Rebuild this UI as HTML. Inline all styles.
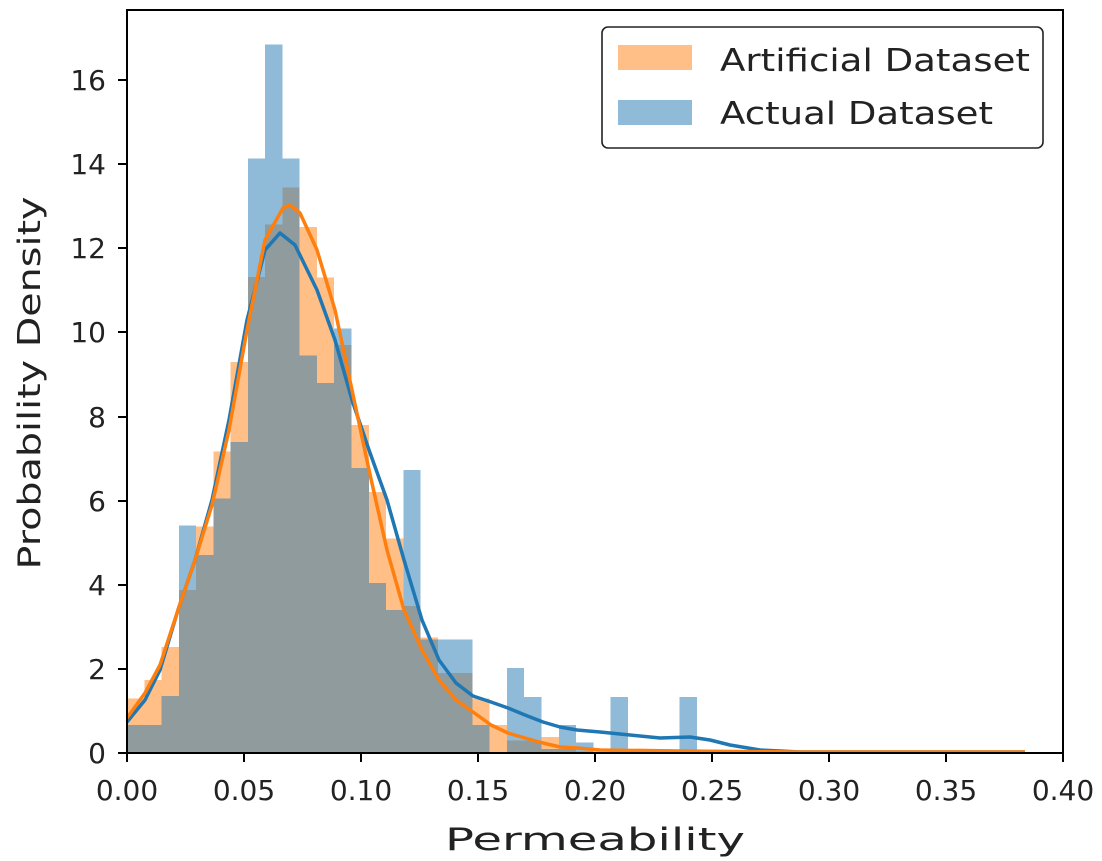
<!DOCTYPE html>
<html><head><meta charset="utf-8"><style>
html,body{margin:0;padding:0;background:#fff;}
svg{display:block;font-family:"DejaVu Sans","Liberation Sans",sans-serif;}
</style></head><body>
<svg width="1102" height="861" viewBox="0 0 1102 861" xmlns="http://www.w3.org/2000/svg" shape-rendering="crispEdges">
<rect width="1102" height="861" fill="#fff"/>
<g fill="#ff7f0e" fill-opacity="0.5">
<rect x="127.0" y="698.7" width="17.3" height="54.3"/>
<rect x="144.3" y="679.8" width="17.2" height="73.2"/>
<rect x="161.5" y="647.0" width="17.3" height="106.0"/>
<rect x="178.8" y="590.2" width="17.3" height="162.8"/>
<rect x="196.1" y="526.7" width="17.3" height="226.3"/>
<rect x="213.4" y="451.4" width="17.2" height="301.6"/>
<rect x="230.6" y="361.8" width="17.3" height="391.2"/>
<rect x="247.9" y="276.9" width="17.3" height="476.1"/>
<rect x="265.2" y="224.7" width="17.2" height="528.3"/>
<rect x="282.4" y="187.3" width="17.3" height="565.7"/>
<rect x="299.7" y="227.2" width="17.3" height="525.8"/>
<rect x="317.0" y="277.7" width="17.2" height="475.3"/>
<rect x="334.2" y="345.0" width="17.3" height="408.0"/>
<rect x="351.5" y="424.9" width="17.3" height="328.1"/>
<rect x="368.8" y="492.2" width="17.3" height="260.8"/>
<rect x="386.1" y="538.5" width="17.2" height="214.5"/>
<rect x="403.3" y="605.8" width="17.3" height="147.2"/>
<rect x="420.6" y="637.3" width="17.3" height="115.7"/>
<rect x="437.9" y="673.1" width="17.2" height="79.9"/>
<rect x="455.1" y="673.1" width="17.3" height="79.9"/>
<rect x="472.4" y="698.3" width="17.3" height="54.7"/>
<rect x="489.7" y="725.2" width="17.3" height="27.8"/>
<rect x="507.0" y="740.4" width="17.2" height="12.6"/>
<rect x="524.2" y="740.4" width="17.3" height="12.6"/>
<rect x="541.5" y="737.0" width="17.3" height="16.0"/>
<rect x="558.8" y="748.8" width="17.2" height="4.2"/>
<rect x="576.0" y="751.5" width="449" height="1.5"/>
</g>
<g fill="#1f77b4" fill-opacity="0.5">
<rect x="127.0" y="724.8" width="34.5" height="28.2"/>
<rect x="161.5" y="696.2" width="17.3" height="56.8"/>
<rect x="178.8" y="525.5" width="17.3" height="227.5"/>
<rect x="196.1" y="554.9" width="17.3" height="198.1"/>
<rect x="213.4" y="498.5" width="17.2" height="254.5"/>
<rect x="230.6" y="441.8" width="17.3" height="311.2"/>
<rect x="247.9" y="158.7" width="17.3" height="594.3"/>
<rect x="265.2" y="44.3" width="17.2" height="708.7"/>
<rect x="282.4" y="158.7" width="17.3" height="594.3"/>
<rect x="299.7" y="355.5" width="17.3" height="397.5"/>
<rect x="317.0" y="382.9" width="17.2" height="370.1"/>
<rect x="334.2" y="328.6" width="17.3" height="424.4"/>
<rect x="351.5" y="467.8" width="17.3" height="285.2"/>
<rect x="368.8" y="583.1" width="17.3" height="169.9"/>
<rect x="386.1" y="610.0" width="17.2" height="143.0"/>
<rect x="403.3" y="469.9" width="17.3" height="283.1"/>
<rect x="420.6" y="639.4" width="51.8" height="113.6"/>
<rect x="472.4" y="725.2" width="17.3" height="27.8"/>
<rect x="507.0" y="668.0" width="17.2" height="85.0"/>
<rect x="524.2" y="697.1" width="17.3" height="55.9"/>
<rect x="541.5" y="748.8" width="17.3" height="4.2"/>
<rect x="558.8" y="725.2" width="17.2" height="27.8"/>
<rect x="576.0" y="742.5" width="17.3" height="10.5"/>
<rect x="610.6" y="697.1" width="17.2" height="55.9"/>
<rect x="679.6" y="697.1" width="17.3" height="55.9"/>
</g>
<g shape-rendering="geometricPrecision">
<polyline fill="none" stroke="#1f77b4" stroke-width="3.5" stroke-linejoin="round" points="127,722 145,700 160,670 178,610 195,560 212,500 229,420 247,320 265,250 280,233 295,245 317,290 335,340 352,400 369,450 387,500 404,560 422,620 439,660 456,683 473,696 491,702 508,708 525,715 543,722 560,727 577,730 600,732 630,735 660,738 690,737 710,740 730,745 760,750 800,752 1025,752"/>
<polyline fill="none" stroke="#ff7f0e" stroke-width="3.5" stroke-linejoin="round" points="127,718 145,693 160,665 178,610 195,560 212,505 229,430 247,330 265,240 283,208 290,205 300,213 317,250 335,310 352,390 369,470 387,550 404,610 422,650 439,680 456,700 473,712 491,725 508,733 525,738 543,743 560,747 577,748 600,750 680,751 800,752 1025,752"/>
</g>
<rect x="127" y="10" width="936" height="743" fill="none" stroke="#000" stroke-width="1.6"/>
<g stroke="#000" stroke-width="1.6">
<line x1="127" y1="753" x2="127" y2="762"/><line x1="244" y1="753" x2="244" y2="762"/><line x1="361" y1="753" x2="361" y2="762"/><line x1="478" y1="753" x2="478" y2="762"/><line x1="595" y1="753" x2="595" y2="762"/><line x1="712" y1="753" x2="712" y2="762"/><line x1="829" y1="753" x2="829" y2="762"/><line x1="946" y1="753" x2="946" y2="762"/><line x1="1063" y1="753" x2="1063" y2="762"/>
<line x1="118" y1="753" x2="127" y2="753"/><line x1="118" y1="669" x2="127" y2="669"/><line x1="118" y1="585" x2="127" y2="585"/><line x1="118" y1="501" x2="127" y2="501"/><line x1="118" y1="417" x2="127" y2="417"/><line x1="118" y1="332" x2="127" y2="332"/><line x1="118" y1="248" x2="127" y2="248"/><line x1="118" y1="164" x2="127" y2="164"/><line x1="118" y1="80" x2="127" y2="80"/>
</g>
<g font-size="28" fill="#222" text-anchor="middle">
<text x="127" y="800">0.00</text><text x="244" y="800">0.05</text><text x="361" y="800">0.10</text><text x="478" y="800">0.15</text><text x="595" y="800">0.20</text><text x="712" y="800">0.25</text><text x="829" y="800">0.30</text><text x="946" y="800">0.35</text><text x="1063" y="800">0.40</text>
</g>
<g font-size="28" fill="#222" text-anchor="end">
<text x="106" y="763">0</text><text x="106" y="679">2</text><text x="106" y="595">4</text><text x="106" y="511">6</text><text x="106" y="427">8</text><text x="106" y="342">10</text><text x="106" y="258">12</text><text x="106" y="174">14</text><text x="106" y="90">16</text>
</g>
<text x="595" y="850" font-size="31" fill="#222" text-anchor="middle" textLength="300" lengthAdjust="spacingAndGlyphs">Permeability</text>
<text transform="translate(40,383) rotate(-90)" font-size="31" fill="#222" text-anchor="middle" textLength="373" lengthAdjust="spacingAndGlyphs">Probability Density</text>
<rect x="602" y="27" width="441" height="121" rx="6" fill="#fff" fill-opacity="0.9" stroke="#222" stroke-width="1.6" shape-rendering="geometricPrecision"/>
<rect x="618" y="45" width="74" height="25" fill="#ff7f0e" fill-opacity="0.5"/>
<rect x="618" y="100" width="74" height="25" fill="#1f77b4" fill-opacity="0.5"/>
<text x="720" y="71" font-size="31" fill="#222" textLength="310" lengthAdjust="spacingAndGlyphs">Artificial Dataset</text>
<text x="720" y="124" font-size="31" fill="#222" textLength="273" lengthAdjust="spacingAndGlyphs">Actual Dataset</text>
</svg>
</body></html>
